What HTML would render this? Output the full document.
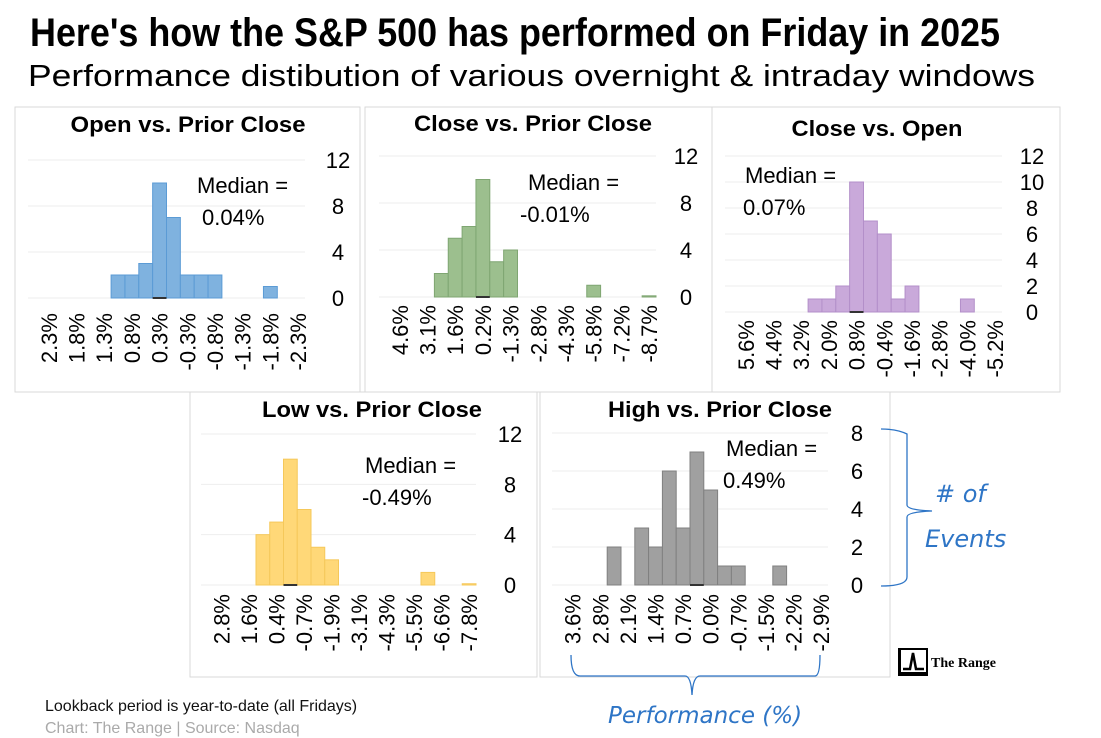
<!DOCTYPE html>
<html><head><meta charset="utf-8"><style>
body{margin:0;background:#fff;}
svg{display:block;font-family:"Liberation Sans",Arial,sans-serif;}
.hand{font-family:"DejaVu Sans",sans-serif;font-style:italic;fill:#2e75c6;}
</style></head><body>
<svg id="chart" width="1101" height="738" viewBox="0 0 1101 738" xmlns="http://www.w3.org/2000/svg">
<text x="30" y="46" font-size="40" font-weight="bold" textLength="970" lengthAdjust="spacingAndGlyphs" font-family="Liberation Sans Narrow, Liberation Sans, sans-serif">Here's how the S&amp;P 500 has performed on Friday in 2025</text>
<text x="28" y="86" font-size="31" textLength="1007" lengthAdjust="spacingAndGlyphs">Performance distibution of various overnight &amp; intraday windows</text>
<g id="panels"></g>
<path d="M881 429 Q897 429 907 434 L907 505 Q907 510 932 511 Q907 512 907 517 L907 577 Q907 586 881 586" fill="none" stroke="#2e75c6" stroke-width="1.3"/>
<text class="hand" x="935" y="502" font-size="24">#  of</text>
<text class="hand" x="925" y="547" font-size="24">Events</text>
<path d="M571 655 Q571 676 580 676 L685 676 Q691 676 692 695 Q693 676 700 676 L815 676 Q820 676 820 655" fill="none" stroke="#2e75c6" stroke-width="1.3"/>
<text class="hand" x="608" y="723" font-size="23">Performance (%)</text>
<g>
<rect x="898" y="648" width="30" height="28" fill="#000"/>
<rect x="901" y="650" width="25" height="22" fill="#fff"/>
<path d="M903 669 L910 669 L913 653 L916 669 L924 669" fill="none" stroke="#000" stroke-width="2.5"/>
<text x="931" y="667" font-size="14" font-weight="bold" font-family="Liberation Serif, serif">The Range</text>
</g>
<text x="45" y="711" font-size="16" fill="#111">Lookback period is year-to-date (all Fridays)</text>
<text x="45" y="733" font-size="16" fill="#aaa">Chart: The Range | Source: Nasdaq</text>
</svg>
<script>
// Data
const p1Counts=[0,0,0,0,0,0,2,2,3,10,7,2,2,2,0,0,0,1,0,0];
const p1Ticks=["2.3%","1.8%","1.3%","0.8%","0.3%","-0.3%","-0.8%","-1.3%","-1.8%","-2.3%"];
const p2Counts=[0,0,0,0,2,5,6,10,3,4,0,0,0,0,0,1,0,0,0,0.1];
const p2Ticks=["4.6%","3.1%","1.6%","0.2%","-1.3%","-2.8%","-4.3%","-5.8%","-7.2%","-8.7%"];
const p3Counts=[0,0,0,0,0,0,1,1,2,10,7,6,1,2,0,0,0,1,0,0];
const p3Ticks=["5.6%","4.4%","3.2%","2.0%","0.8%","-0.4%","-1.6%","-2.8%","-4.0%","-5.2%"];
const p4Counts=[0,0,0,0,4,5,10,6,3,2,0,0,0,0,0,0,1,0,0,0.1];
const p4Ticks=["2.8%","1.6%","0.4%","-0.7%","-1.9%","-3.1%","-4.3%","-5.5%","-6.6%","-7.8%"];
const p5Counts=[0,0,0,0,2,0,3,2,6,3,7,5,1,1,0,0,1,0,0,0];
const p5Ticks=["3.6%","2.8%","2.1%","1.4%","0.7%","0.0%","-0.7%","-1.5%","-2.2%","-2.9%"];
const yTicks12=[0,4,8,12];
const yTicks12b=[0,2,4,6,8,10,12];
const yTicks8=[0,2,4,6,8];

const NS="http://www.w3.org/2000/svg";
const root=document.getElementById('panels');
function mk(tag,attrs,parent){const e=document.createElementNS(NS,tag);for(const k in attrs)e.setAttribute(k,attrs[k]);(parent||root).appendChild(e);return e;}

function panel(o,counts,ticks,yt){
  const g=mk('g',{});
  
  
  const box=mk('rect',{x:o.bx,y:o.by,width:o.bw,height:o.bh,fill:'none',stroke:'#d9d9d9','stroke-width':1},g);
  
  
  const ymax=yt[yt.length-1];
  const ys=v=>o.y0-(o.y0-o.y1)*v/ymax;
  const bw=(o.x1-o.x0)/counts.length;
  yt.forEach(v=>{
    const l=mk('line',{x1:o.x0,x2:o.x1,y1:ys(v),y2:ys(v),stroke:'#eeeeee','stroke-width':1},g);
    
    
    const t=mk('text',{x:o.rx,y:ys(v)+8,'font-size':22,'text-anchor':'middle'},g);
    t.textContent=v;
    
    
  });
  counts.forEach((c,i)=>{
    if(c<=0)return;
    const r=mk('rect',{x:o.x0+i*bw,y:ys(c),width:bw,height:Math.max(ys(0)-ys(c),1),fill:o.fill,stroke:o.stroke,'stroke-width':1},g);
    
    
  });
  const mi=counts.indexOf(Math.max(...counts));
  const ml=mk('line',{x1:o.x0+mi*bw,x2:o.x0+(mi+1)*bw,y1:ys(0),y2:ys(0),stroke:'#333','stroke-width':2},g);
  
  
  ticks.forEach((s,i)=>{
    const x=o.x0+(2*i+1.5)*bw+8, y=o.ty;
    const t=mk('text',{x:x,y:y,'font-size':22,'text-anchor':'end',transform:`rotate(-90 ${x} ${y})`},g);
    t.textContent=s;
    
    
  });
  const ti=mk('text',{x:o.tx,y:o.tty,'font-size':22,'font-weight':'bold','text-anchor':'middle',textLength:o.tw,lengthAdjust:'spacingAndGlyphs'},g);
  ti.textContent=o.title;
  
  
  const m1=mk('text',{x:o.mx,y:o.my,'font-size':22},g);
  m1.textContent='Median =';
  
  
  const m2=mk('text',{x:o.mx2,y:o.my+32,'font-size':22},g);
  m2.textContent=o.med;
  
  
}
panel({name:'open-vs-prior-close',bx:15,by:107,bw:345,bh:285,x0:28,x1:305,y0:298,y1:160,rx:338,ty:313,tx:188,tw:235,tty:132,mx:197,mx2:202,my:193,med:'0.04%',title:'Open vs. Prior Close',fill:'#7fb2df',stroke:'#5b9bd5'},p1Counts,p1Ticks,yTicks12);
panel({name:'close-vs-prior-close',bx:365,by:107,bw:347,bh:285,x0:379,x1:656,y0:297,y1:156,rx:686,ty:305,tx:533,tw:238,tty:131,mx:528,mx2:520,my:190,med:'-0.01%',title:'Close vs. Prior Close',fill:'#9cbf8e',stroke:'#7fa672'},p2Counts,p2Ticks,yTicks12);
panel({name:'close-vs-open',bx:712,by:107,bw:348,bh:285,x0:725,x1:1002,y0:312,y1:156,rx:1032,ty:320,tx:877,tw:171,tty:136,mx:745,mx2:743,my:183,med:'0.07%',title:'Close vs. Open',fill:'#c9a9da',stroke:'#b38fc9'},p3Counts,p3Ticks,yTicks12b);
panel({name:'low-vs-prior-close',bx:190,by:392,bw:347,bh:285,x0:201,x1:476,y0:585,y1:434,rx:510,ty:594,tx:372,tw:220,tty:417,mx:365,mx2:362,my:473,med:'-0.49%',title:'Low vs. Prior Close',fill:'#ffd878',stroke:'#f5c85a'},p4Counts,p4Ticks,yTicks12);
panel({name:'high-vs-prior-close',bx:540,by:392,bw:350,bh:285,x0:552,x1:828,y0:585,y1:433,rx:857,ty:594,tx:720,tw:224,tty:417,mx:726,mx2:723,my:456,med:'0.49%',title:'High vs. Prior Close',fill:'#a0a0a0',stroke:'#808080'},p5Counts,p5Ticks,yTicks8);
</script>
</body></html>
